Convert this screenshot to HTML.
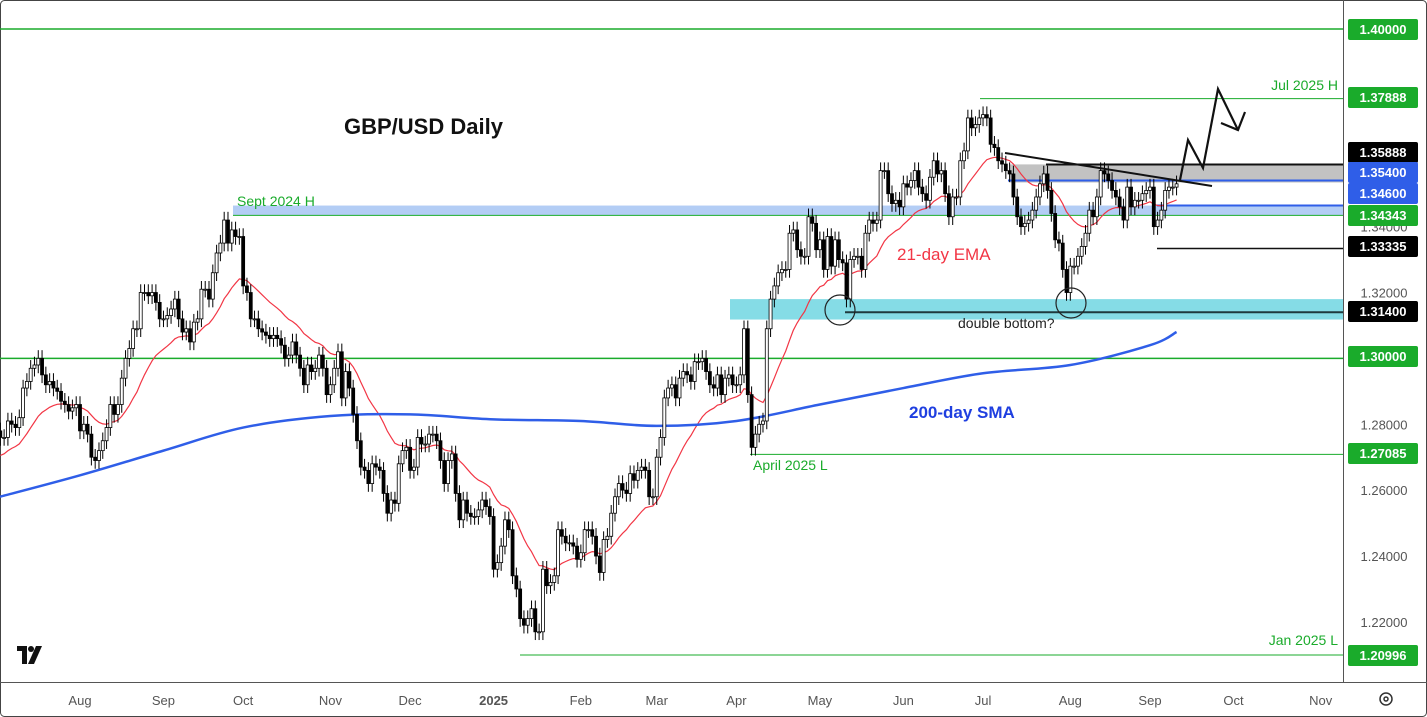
<!DOCTYPE html>
<html><head><meta charset="utf-8">
<style>
html,body{margin:0;padding:0;background:#fff;}
svg{display:block;font-family:"Liberation Sans",sans-serif;}
</style></head>
<body>
<svg id="chart" width="1427" height="717" viewBox="0 0 1427 717" xmlns="http://www.w3.org/2000/svg">
<rect x="0.5" y="0.5" width="1426" height="716" rx="4" fill="#fff" stroke="#444"/>
<g id="bands"></g>
<g id="lines"></g>
<g id="ind"></g>
<g id="candles"></g>
<g id="ann"></g>
<line x1="1343.5" y1="0" x2="1343.5" y2="683" stroke="#555"/>
<line x1="0" y1="682.5" x2="1427" y2="682.5" stroke="#555"/>
<g id="yaxis"></g>
<g id="xaxis"></g>
<g fill="#111">
<path d="M17 646h10v18h-5v-13h-5z"/><circle cx="31" cy="649" r="3"/><path d="M36 646h6l-8 18h-6z"/>
</g>
<g fill="none" stroke="#333" stroke-width="1.5">
<circle cx="1386" cy="699" r="6"/><circle cx="1386" cy="699" r="2"/>
</g>
</svg>
<script>
const NS='http://www.w3.org/2000/svg';
const startDate='2024-07-03';
const closes=[1.276,1.276,1.281,
1.280,1.279,1.282,1.291,1.293,
1.297,1.298,1.300,1.295,1.292,
1.293,1.291,1.290,1.287,1.286,
1.284,1.285,1.286,1.278,1.280,
1.277,1.270,1.269,1.272,1.275,
1.279,1.286,1.283,1.286,1.294,
1.300,1.303,1.309,1.309,1.320,
1.320,1.319,1.320,1.317,1.312,
1.312,1.313,1.315,1.318,1.312,
1.308,1.309,1.305,1.311,1.312,
1.321,1.321,1.318,1.326,1.332,
1.335,1.342,1.335,1.339,1.337,
1.337,1.322,1.320,1.312,1.312,
1.309,1.308,1.307,1.306,1.307,
1.306,1.304,1.300,1.301,1.305,
1.301,1.297,1.292,1.298,1.296,
1.297,1.301,1.297,1.289,1.292,
1.297,1.302,1.288,1.296,1.291,
1.283,1.275,1.267,1.266,1.262,
1.268,1.267,1.266,1.259,1.253,
1.257,1.256,1.268,1.272,1.273,
1.266,1.267,1.276,1.274,1.274,
1.277,1.277,1.275,1.269,1.262,
1.269,1.271,1.259,1.251,1.257,
1.253,1.252,1.252,1.254,1.257,
1.255,1.252,1.236,1.238,1.243,
1.251,1.248,1.234,1.230,1.221,
1.219,1.221,1.224,1.217,1.217,
1.236,1.231,1.232,1.234,1.248,
1.246,1.244,1.244,1.243,1.239,
1.241,1.248,1.248,1.246,1.240,
1.235,1.245,1.246,1.253,1.258,
1.262,1.260,1.259,1.265,1.263,
1.266,1.267,1.266,1.258,1.258,
1.270,1.276,1.288,1.291,1.292,
1.288,1.294,1.296,1.295,1.293,
1.299,1.299,1.300,1.296,1.292,
1.291,1.295,1.289,1.294,1.295,
1.292,1.292,1.295,1.309,1.289,
1.273,1.277,1.280,1.281,1.309,
1.318,1.322,1.326,1.327,1.327,
1.338,1.339,1.333,1.331,1.331,
1.343,1.341,1.333,1.336,1.327,
1.337,1.328,1.336,1.330,1.329,
1.318,1.330,1.331,1.331,1.327,
1.338,1.342,1.341,1.342,1.357,
1.357,1.350,1.347,1.348,1.346,
1.353,1.352,1.354,1.357,1.352,
1.350,1.348,1.355,1.360,1.356,
1.357,1.350,1.343,1.349,1.349,
1.360,1.363,1.373,1.370,1.371,
1.373,1.374,1.373,1.365,1.364,
1.360,1.359,1.357,1.356,1.349,
1.343,1.340,1.341,1.342,1.345,
1.349,1.353,1.356,1.351,1.344,
1.336,1.335,1.327,1.320,1.328,
1.328,1.331,1.334,1.338,1.345,
1.343,1.349,1.357,1.356,1.354,
1.351,1.349,1.346,1.342,1.352,
1.346,1.348,1.348,1.350,1.351,
1.352,1.340,1.342,1.345,1.351,
1.352,1.352,1.353];
const firstOpen=1.278;
const smaDates=['2024-07-03','2024-08-01','2024-09-02','2024-10-01','2024-11-01','2024-12-02','2025-01-01','2025-02-03','2025-03-03','2025-04-01','2025-05-01','2025-06-02','2025-07-01','2025-08-01','2025-09-01','2025-09-10'];
const smaValues=[1.258,1.2645,1.272,1.279,1.2825,1.283,1.2815,1.281,1.2795,1.281,1.286,1.291,1.2955,1.298,1.304,1.308];
const monthDates=['2024-08-01','2024-09-02','2024-10-01','2024-11-01','2024-12-02','2025-01-01','2025-02-03','2025-03-03','2025-04-01','2025-05-01','2025-06-02','2025-07-01','2025-08-01','2025-09-01','2025-10-01','2025-11-03'];
const monthLabels=['Aug','Sep','Oct','Nov','Dec','2025','Feb','Mar','Apr','May','Jun','Jul','Aug','Sep','Oct','Nov'];
const plainTicks=[1.34,1.32,1.28,1.26,1.24,1.22];
const tagValues=[1.40,1.37888,1.35888,1.354,1.346,1.34343,1.33335,1.314,1.30,1.27085,1.20996];

function y(p){return 29+(1.40-p)*3294;}
function dayIndex(ds){
  const s=new Date(startDate+'T00:00:00Z'), d=new Date(ds+'T00:00:00Z');
  let n=0; const c=new Date(s);
  while(c<d){const w=c.getUTCDay(); if(w!==0&&w!==6)n++; c.setUTCDate(c.getUTCDate()+1);}
  return n;
}
const iA=dayIndex('2024-08-01'), iB=dayIndex('2025-09-01');
const dx=(1150-80)/(iB-iA);
function x(i){return 80+(i-iA)*dx;}
function xd(ds){return x(dayIndex(ds));}
function el(tag,attrs,parent){const e=document.createElementNS(NS,tag);for(const k in attrs)e.setAttribute(k,attrs[k]);document.getElementById(parent).appendChild(e);return e;}

let e;
e=el('rect',{x:233,y:y(1.3464),width:1110,height:y(1.3434)-y(1.3464),fill:'#b3cdf5'},'bands');


e=el('rect',{x:1010,y:y(1.3589),width:333,height:y(1.3534)-y(1.3589),fill:'#c2c2c2'},'bands');


e=el('rect',{x:730,y:y(1.3180),width:613,height:y(1.3118)-y(1.3180),fill:'#85dce6'},'bands');


function hline(x1,p,col,w,name){
  const l=el('line',{x1:x1,x2:1343,y1:y(p),y2:y(p),stroke:col,'stroke-width':w},'lines');
  
  
}
hline(0,1.40,'#1aab2b',1.5,'level-1-40');
hline(0,1.30,'#1aab2b',1.5,'level-1-30');
hline(233,1.34343,'#1aab2b',1,'level-sept-2024-high');
hline(980,1.37888,'#1aab2b',1,'level-jul-2025-high');
hline(750,1.27085,'#1aab2b',1,'level-april-2025-low');
hline(520,1.20996,'#1aab2b',1,'level-jan-2025-low');
hline(1046,1.35888,'#111',2,'level-1-35888');
hline(1008,1.354,'#2f5ee8',2,'level-1-354');
hline(1157,1.3464,'#2f5ee8',2,'level-1-346');
hline(845,1.314,'#1e3a3e',2,'level-1-314');
hline(1157,1.33335,'#111',1.5,'level-1-33335');

let ema=[],k=2/22,prev=closes[0]-0.006;
closes.forEach((c)=>{prev=c*k+prev*(1-k);ema.push(prev);});
e=el('polyline',{points:ema.map((v,i)=>x(i).toFixed(1)+','+y(v).toFixed(1)).join(' '),fill:'none',stroke:'#f23645','stroke-width':1.2},'ind');


let sp=smaValues.map((v,i)=>[xd(smaDates[i]),y(v)]);sp[0][0]=0;
let d='M'+sp[0][0]+','+sp[0][1];
for(let i=0;i<sp.length-1;i++){
  const p0=sp[Math.max(0,i-1)],p1=sp[i],p2=sp[i+1],p3=sp[Math.min(sp.length-1,i+2)];
  const c1x=p1[0]+(p2[0]-p0[0])/6,c1y=p1[1]+(p2[1]-p0[1])/6;
  const c2x=p2[0]-(p3[0]-p1[0])/6,c2y=p2[1]-(p3[1]-p1[1])/6;
  d+=` C${c1x},${c1y} ${c2x},${c2y} ${p2[0]},${p2[1]}`;
}
e=el('path',{d:d,fill:'none',stroke:'#2f5ee8','stroke-width':2.5},'ind');



closes.forEach((c,i)=>{
  const o=i?closes[i-1]:firstOpen;const up=c>=o;
  const hi=Math.max(o,c)+0.0025, lo=Math.min(o,c)-0.0025;const cx=x(i);
  const w=el('line',{x1:cx,x2:cx,y1:y(hi),y2:y(lo),stroke:'#000','stroke-width':1},'candles');
  
  
  const b=el('rect',{x:cx-1.5,y:y(Math.max(o,c)),width:3,height:Math.max(1,Math.abs(y(o)-y(c))),fill:up?'#fff':'#000',stroke:'#000','stroke-width':0.8},'candles');
  
  
});

function txt(t,xx,yy,opt,name){
  const a=el('text',Object.assign({x:xx,y:yy},opt),'ann');a.textContent=t;
  
  
}
txt('GBP/USD Daily',344,134,{'font-size':22,'font-weight':'bold',fill:'#111'},'chart-title');
txt('Sept 2024 H',237,206,{'font-size':14,fill:'#1aab2b'},'sept-2024-high-label');
txt('Jul 2025 H',1338,90,{'font-size':14,fill:'#1aab2b','text-anchor':'end'},'jul-2025-high-label');
txt('April 2025 L',753,470,{'font-size':14,fill:'#1aab2b'},'april-2025-low-label');
txt('Jan 2025 L',1338,645,{'font-size':14,fill:'#1aab2b','text-anchor':'end'},'jan-2025-low-label');
txt('21-day EMA',897,260,{'font-size':17,fill:'#f23645'},'ema-label');
txt('200-day SMA',909,418,{'font-size':17,'font-weight':'bold',fill:'#1f3fe0'},'sma-label');
txt('double bottom?',958,328,{'font-size':14,fill:'#222'},'double-bottom-label');
e=el('circle',{cx:840,cy:310,r:15,fill:'none',stroke:'#222','stroke-width':1.2},'ann');


e=el('circle',{cx:1071,cy:303,r:15,fill:'none',stroke:'#222','stroke-width':1.2},'ann');


e=el('line',{x1:1005,y1:153,x2:1212,y2:186,stroke:'#111','stroke-width':2},'ann');


e=el('polyline',{points:'1180,180 1188,140 1203,168 1218,89 1238,130',fill:'none',stroke:'#111','stroke-width':2.2},'ann');


e=el('polyline',{points:'1221,123 1238,130 1245,112',fill:'none',stroke:'#111','stroke-width':2.2},'ann');



const tagPos={1.40:29,1.37888:97,1.35888:152,1.354:172,1.346:193,1.34343:215,1.33335:246,1.314:311,1.30:356,1.27085:453,1.20996:655};
const tagCol={1.40:'#1aab2b',1.37888:'#1aab2b',1.35888:'#000',1.354:'#2f5ee8',1.346:'#2f5ee8',1.34343:'#1aab2b',1.33335:'#000',1.314:'#000',1.30:'#1aab2b',1.27085:'#1aab2b',1.20996:'#1aab2b'};
plainTicks.forEach(v=>{
  const t=el('text',{x:1384,y:y(v)+5,'font-size':13,fill:'#555','text-anchor':'middle'},'yaxis');t.textContent=v.toFixed(5);
  
  
});
tagValues.forEach(v=>{const cy=tagPos[v];
  const r=el('rect',{x:1348,y:cy-10,width:70,height:21,rx:2,fill:tagCol[v]},'yaxis');
  
  
  const t=el('text',{x:1383,y:cy+5,'font-size':13,'font-weight':'bold',fill:'#fff','text-anchor':'middle'},'yaxis');t.textContent=v.toFixed(5);
  
  
});
monthDates.forEach((ds,i)=>{
  const t=el('text',{x:xd(ds),y:705,'font-size':13,fill:'#555','text-anchor':'middle','font-weight':monthLabels[i]==='2025'?'bold':'normal'},'xaxis');t.textContent=monthLabels[i];
  
  
});
</script>
</body></html>
